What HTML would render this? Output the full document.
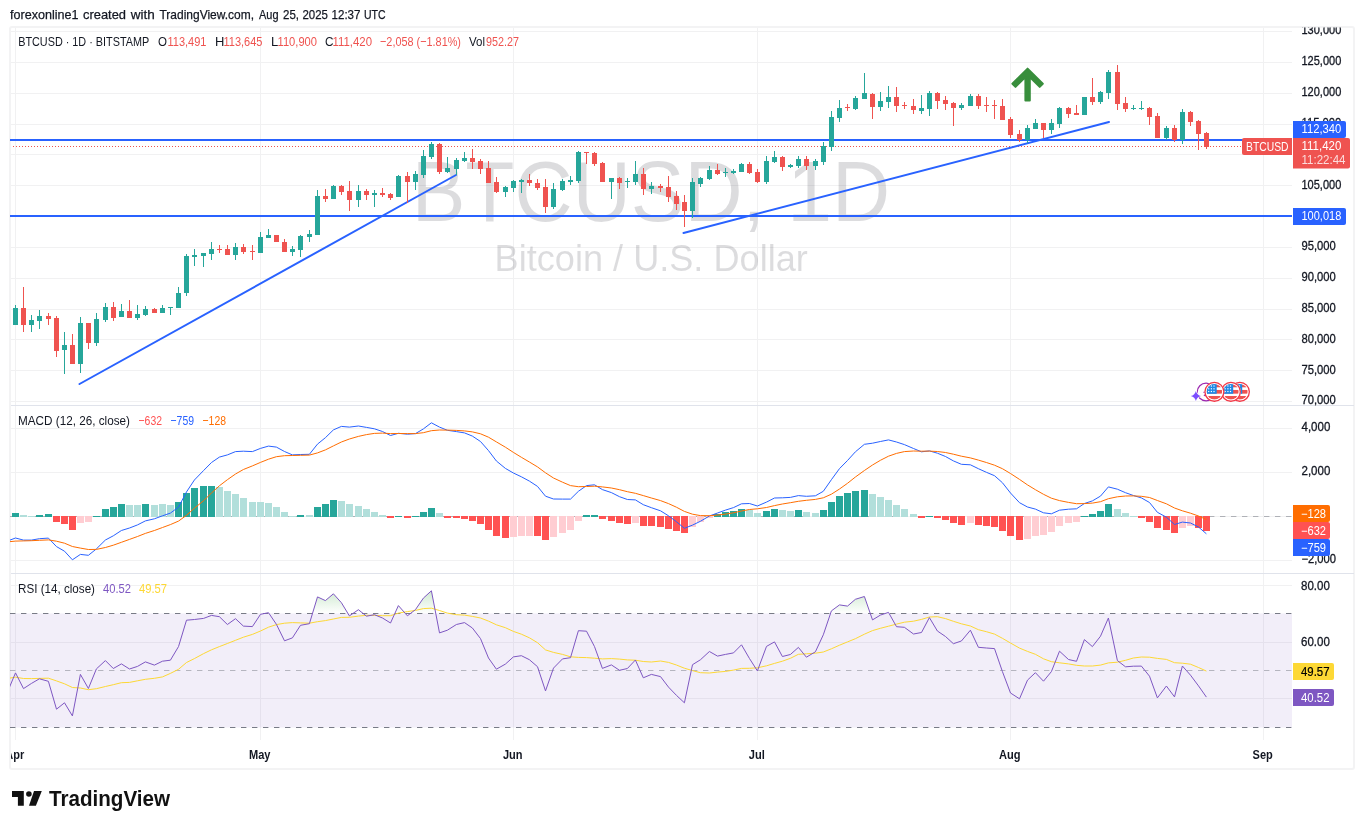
<!DOCTYPE html><html><head><meta charset="utf-8"><title>BTCUSD</title><style>html,body{margin:0;padding:0;background:#fff;overflow:hidden}svg{display:block;will-change:transform}</style></head><body><svg width="1364" height="829" viewBox="0 0 1364 829" font-family="Liberation Sans, sans-serif">
<defs>
<clipPath id="pane"><rect x="10" y="28" width="1282" height="712"/></clipPath>
<clipPath id="fc"><rect x="11" y="28" width="1342" height="740"/></clipPath>
<clipPath id="ob"><rect x="11" y="574" width="1281" height="39.5"/></clipPath>
<linearGradient id="obg" gradientUnits="userSpaceOnUse" x1="0" y1="528.5" x2="0" y2="613.5"><stop offset="0" stop-color="#4caf50" stop-opacity="1"/><stop offset="1" stop-color="#4caf50" stop-opacity="0"/></linearGradient>
<clipPath id="axc"><rect x="1293" y="27.6" width="61" height="378"/></clipPath>
<clipPath id="flagc"><circle cx="0" cy="0" r="7.7"/></clipPath>
</defs>
<text x="10" y="19" font-size="13" fill="#131722" font-weight="normal" text-anchor="start" textLength="68.5" lengthAdjust="spacingAndGlyphs" stroke="#131722" stroke-width="0.25">forexonline1</text>
<text x="83" y="19" font-size="13" fill="#131722" font-weight="normal" text-anchor="start" textLength="43" lengthAdjust="spacingAndGlyphs" stroke="#131722" stroke-width="0.25">created</text>
<text x="130.7" y="19" font-size="13" fill="#131722" font-weight="normal" text-anchor="start" textLength="24" lengthAdjust="spacingAndGlyphs" stroke="#131722" stroke-width="0.25">with</text>
<text x="159.5" y="19" font-size="13" fill="#131722" font-weight="normal" text-anchor="start" textLength="94.5" lengthAdjust="spacingAndGlyphs" stroke="#131722" stroke-width="0.25">TradingView.com,</text>
<text x="259" y="19" font-size="13" fill="#131722" font-weight="normal" text-anchor="start" textLength="19.5" lengthAdjust="spacingAndGlyphs" stroke="#131722" stroke-width="0.25">Aug</text>
<text x="283" y="19" font-size="13" fill="#131722" font-weight="normal" text-anchor="start" textLength="16" lengthAdjust="spacingAndGlyphs" stroke="#131722" stroke-width="0.25">25,</text>
<text x="302.5" y="19" font-size="13" fill="#131722" font-weight="normal" text-anchor="start" textLength="25.5" lengthAdjust="spacingAndGlyphs" stroke="#131722" stroke-width="0.25">2025</text>
<text x="331.5" y="19" font-size="13" fill="#131722" font-weight="normal" text-anchor="start" textLength="29" lengthAdjust="spacingAndGlyphs" stroke="#131722" stroke-width="0.25">12:37</text>
<text x="364" y="19" font-size="13" fill="#131722" font-weight="normal" text-anchor="start" textLength="21.5" lengthAdjust="spacingAndGlyphs" stroke="#131722" stroke-width="0.25">UTC</text>
<rect x="10" y="27" width="1344" height="742" rx="2" ry="2" fill="#fff" stroke="#f3f3f4" stroke-width="2"/>
<g shape-rendering="crispEdges">
<rect x="15" y="28" width="1" height="377" fill="#f1f1f2" />
<rect x="15" y="406" width="1" height="167" fill="#f1f1f2" />
<rect x="15" y="574" width="1" height="166" fill="#f1f1f2" />
<rect x="260" y="28" width="1" height="377" fill="#f1f1f2" />
<rect x="260" y="406" width="1" height="167" fill="#f1f1f2" />
<rect x="260" y="574" width="1" height="166" fill="#f1f1f2" />
<rect x="513" y="28" width="1" height="377" fill="#f1f1f2" />
<rect x="513" y="406" width="1" height="167" fill="#f1f1f2" />
<rect x="513" y="574" width="1" height="166" fill="#f1f1f2" />
<rect x="757" y="28" width="1" height="377" fill="#f1f1f2" />
<rect x="757" y="406" width="1" height="167" fill="#f1f1f2" />
<rect x="757" y="574" width="1" height="166" fill="#f1f1f2" />
<rect x="1010" y="28" width="1" height="377" fill="#f1f1f2" />
<rect x="1010" y="406" width="1" height="167" fill="#f1f1f2" />
<rect x="1010" y="574" width="1" height="166" fill="#f1f1f2" />
<rect x="1263" y="28" width="1" height="377" fill="#f1f1f2" />
<rect x="1263" y="406" width="1" height="167" fill="#f1f1f2" />
<rect x="1263" y="574" width="1" height="166" fill="#f1f1f2" />
<rect x="11" y="31" width="1281" height="1" fill="#f1f1f2" />
<rect x="11" y="62" width="1281" height="1" fill="#f1f1f2" />
<rect x="11" y="93" width="1281" height="1" fill="#f1f1f2" />
<rect x="11" y="124" width="1281" height="1" fill="#f1f1f2" />
<rect x="11" y="154" width="1281" height="1" fill="#f1f1f2" />
<rect x="11" y="185" width="1281" height="1" fill="#f1f1f2" />
<rect x="11" y="216" width="1281" height="1" fill="#f1f1f2" />
<rect x="11" y="247" width="1281" height="1" fill="#f1f1f2" />
<rect x="11" y="278" width="1281" height="1" fill="#f1f1f2" />
<rect x="11" y="309" width="1281" height="1" fill="#f1f1f2" />
<rect x="11" y="339" width="1281" height="1" fill="#f1f1f2" />
<rect x="11" y="370" width="1281" height="1" fill="#f1f1f2" />
<rect x="11" y="401" width="1281" height="1" fill="#f1f1f2" />
<rect x="11" y="428" width="1281" height="1" fill="#f1f1f2" />
<rect x="11" y="472" width="1281" height="1" fill="#f1f1f2" />
<rect x="11" y="516" width="1281" height="1" fill="#f1f1f2" />
<rect x="11" y="560" width="1281" height="1" fill="#f1f1f2" />
<rect x="11" y="585" width="1281" height="1" fill="#f1f1f2" />
<rect x="11" y="642" width="1281" height="1" fill="#f1f1f2" />
<rect x="11" y="698" width="1281" height="1" fill="#f1f1f2" />
<rect x="11" y="405" width="1343" height="1" fill="#e0e3eb" />
<rect x="11" y="573" width="1343" height="1" fill="#e0e3eb" />
</g>
<g fill="#131722" fill-opacity="0.15" text-anchor="middle">
<text transform="translate(650.9,221) scale(1.006,1.06)" font-size="80">BTCUSD, 1D</text>
<text transform="translate(651.2,270.8) scale(1.004,1.045)" font-size="36">Bitcoin / U.S. Dollar</text>
</g>
<g shape-rendering="crispEdges">
<rect x="10" y="139" width="1282" height="2" fill="#2962ff" />
<rect x="10" y="215" width="1282" height="2" fill="#2962ff" />
</g>
<line x1="13" y1="146.5" x2="1292" y2="146.5" stroke="#ef5350" stroke-width="1" stroke-dasharray="1 2" shape-rendering="crispEdges"/>
<g stroke="#2962ff" stroke-width="2" stroke-linecap="round">
<line x1="79.5" y1="384" x2="456" y2="175"/>
<line x1="683.5" y1="233" x2="1109" y2="122"/>
</g>
<g shape-rendering="crispEdges">
<rect x="15" y="305" width="1" height="20" fill="#26a69a" />
<rect x="13" y="308" width="5" height="17" fill="#26a69a" />
<rect x="23" y="287" width="1" height="45" fill="#ef5350" />
<rect x="21" y="308" width="5" height="17" fill="#ef5350" />
<rect x="31" y="315" width="1" height="17" fill="#26a69a" />
<rect x="29" y="320" width="5" height="5" fill="#26a69a" />
<rect x="39" y="310" width="1" height="19" fill="#26a69a" />
<rect x="37" y="316" width="5" height="5" fill="#26a69a" />
<rect x="48" y="313" width="1" height="12" fill="#ef5350" />
<rect x="46" y="316" width="5" height="3" fill="#ef5350" />
<rect x="56" y="316" width="1" height="41" fill="#ef5350" />
<rect x="54" y="318" width="5" height="33" fill="#ef5350" />
<rect x="64" y="332" width="1" height="42" fill="#26a69a" />
<rect x="62" y="345" width="5" height="5" fill="#26a69a" />
<rect x="72" y="334" width="1" height="30" fill="#ef5350" />
<rect x="70" y="345" width="5" height="19" fill="#ef5350" />
<rect x="80" y="317" width="1" height="56" fill="#26a69a" />
<rect x="78" y="323" width="5" height="41" fill="#26a69a" />
<rect x="88" y="323" width="1" height="26" fill="#ef5350" />
<rect x="86" y="323" width="5" height="20" fill="#ef5350" />
<rect x="96" y="313" width="1" height="33" fill="#26a69a" />
<rect x="94" y="319" width="5" height="24" fill="#26a69a" />
<rect x="105" y="303" width="1" height="19" fill="#26a69a" />
<rect x="103" y="307" width="5" height="13" fill="#26a69a" />
<rect x="113" y="302" width="1" height="19" fill="#ef5350" />
<rect x="111" y="307" width="5" height="11" fill="#ef5350" />
<rect x="121" y="304" width="1" height="13" fill="#26a69a" />
<rect x="119" y="311" width="5" height="6" fill="#26a69a" />
<rect x="129" y="300" width="1" height="18" fill="#ef5350" />
<rect x="127" y="311" width="5" height="7" fill="#ef5350" />
<rect x="137" y="305" width="1" height="15" fill="#26a69a" />
<rect x="135" y="314" width="5" height="4" fill="#26a69a" />
<rect x="145" y="306" width="1" height="10" fill="#26a69a" />
<rect x="143" y="309" width="5" height="6" fill="#26a69a" />
<rect x="154" y="308" width="1" height="5" fill="#ef5350" />
<rect x="152" y="309" width="5" height="4" fill="#ef5350" />
<rect x="162" y="305" width="1" height="8" fill="#26a69a" />
<rect x="160" y="308" width="5" height="5" fill="#26a69a" />
<rect x="170" y="307" width="1" height="8" fill="#26a69a" />
<rect x="168" y="307" width="5" height="1" fill="#26a69a" />
<rect x="178" y="287" width="1" height="21" fill="#26a69a" />
<rect x="176" y="293" width="5" height="15" fill="#26a69a" />
<rect x="186" y="254" width="1" height="42" fill="#26a69a" />
<rect x="184" y="256" width="5" height="37" fill="#26a69a" />
<rect x="194" y="249" width="1" height="17" fill="#26a69a" />
<rect x="192" y="255" width="5" height="2" fill="#26a69a" />
<rect x="203" y="253" width="1" height="14" fill="#26a69a" />
<rect x="201" y="253" width="5" height="3" fill="#26a69a" />
<rect x="211" y="242" width="1" height="18" fill="#26a69a" />
<rect x="209" y="249" width="5" height="5" fill="#26a69a" />
<rect x="219" y="245" width="1" height="8" fill="#ef5350" />
<rect x="217" y="249" width="5" height="1" fill="#ef5350" />
<rect x="227" y="245" width="1" height="10" fill="#ef5350" />
<rect x="225" y="249" width="5" height="6" fill="#ef5350" />
<rect x="235" y="243" width="1" height="17" fill="#26a69a" />
<rect x="233" y="247" width="5" height="8" fill="#26a69a" />
<rect x="243" y="244" width="1" height="10" fill="#ef5350" />
<rect x="241" y="247" width="5" height="5" fill="#ef5350" />
<rect x="252" y="245" width="1" height="15" fill="#ef5350" />
<rect x="250" y="251" width="5" height="1" fill="#ef5350" />
<rect x="260" y="232" width="1" height="21" fill="#26a69a" />
<rect x="258" y="237" width="5" height="16" fill="#26a69a" />
<rect x="268" y="229" width="1" height="9" fill="#26a69a" />
<rect x="266" y="235" width="5" height="3" fill="#26a69a" />
<rect x="276" y="235" width="1" height="7" fill="#ef5350" />
<rect x="274" y="235" width="5" height="7" fill="#ef5350" />
<rect x="284" y="239" width="1" height="13" fill="#ef5350" />
<rect x="282" y="242" width="5" height="10" fill="#ef5350" />
<rect x="292" y="246" width="1" height="10" fill="#26a69a" />
<rect x="290" y="249" width="5" height="3" fill="#26a69a" />
<rect x="300" y="235" width="1" height="22" fill="#26a69a" />
<rect x="298" y="236" width="5" height="14" fill="#26a69a" />
<rect x="309" y="230" width="1" height="12" fill="#26a69a" />
<rect x="307" y="234" width="5" height="3" fill="#26a69a" />
<rect x="317" y="190" width="1" height="45" fill="#26a69a" />
<rect x="315" y="196" width="5" height="39" fill="#26a69a" />
<rect x="325" y="189" width="1" height="13" fill="#ef5350" />
<rect x="323" y="196" width="5" height="3" fill="#ef5350" />
<rect x="333" y="185" width="1" height="14" fill="#26a69a" />
<rect x="331" y="186" width="5" height="13" fill="#26a69a" />
<rect x="341" y="185" width="1" height="10" fill="#ef5350" />
<rect x="339" y="186" width="5" height="6" fill="#ef5350" />
<rect x="349" y="181" width="1" height="30" fill="#ef5350" />
<rect x="347" y="191" width="5" height="9" fill="#ef5350" />
<rect x="358" y="185" width="1" height="22" fill="#26a69a" />
<rect x="356" y="191" width="5" height="9" fill="#26a69a" />
<rect x="366" y="189" width="1" height="11" fill="#ef5350" />
<rect x="364" y="191" width="5" height="4" fill="#ef5350" />
<rect x="374" y="190" width="1" height="17" fill="#26a69a" />
<rect x="372" y="193" width="5" height="2" fill="#26a69a" />
<rect x="382" y="188" width="1" height="9" fill="#ef5350" />
<rect x="380" y="193" width="5" height="2" fill="#ef5350" />
<rect x="390" y="193" width="1" height="7" fill="#ef5350" />
<rect x="388" y="194" width="5" height="4" fill="#ef5350" />
<rect x="398" y="175" width="1" height="22" fill="#26a69a" />
<rect x="396" y="176" width="5" height="21" fill="#26a69a" />
<rect x="407" y="172" width="1" height="31" fill="#ef5350" />
<rect x="405" y="176" width="5" height="6" fill="#ef5350" />
<rect x="415" y="171" width="1" height="19" fill="#26a69a" />
<rect x="413" y="174" width="5" height="8" fill="#26a69a" />
<rect x="423" y="150" width="1" height="28" fill="#26a69a" />
<rect x="421" y="156" width="5" height="19" fill="#26a69a" />
<rect x="431" y="142" width="1" height="17" fill="#26a69a" />
<rect x="429" y="144" width="5" height="13" fill="#26a69a" />
<rect x="439" y="143" width="1" height="31" fill="#ef5350" />
<rect x="437" y="144" width="5" height="28" fill="#ef5350" />
<rect x="447" y="157" width="1" height="16" fill="#26a69a" />
<rect x="445" y="168" width="5" height="4" fill="#26a69a" />
<rect x="456" y="158" width="1" height="17" fill="#26a69a" />
<rect x="454" y="160" width="5" height="9" fill="#26a69a" />
<rect x="464" y="152" width="1" height="10" fill="#26a69a" />
<rect x="462" y="158" width="5" height="3" fill="#26a69a" />
<rect x="472" y="149" width="1" height="20" fill="#ef5350" />
<rect x="470" y="158" width="5" height="4" fill="#ef5350" />
<rect x="480" y="159" width="1" height="15" fill="#ef5350" />
<rect x="478" y="161" width="5" height="8" fill="#ef5350" />
<rect x="488" y="161" width="1" height="22" fill="#ef5350" />
<rect x="486" y="168" width="5" height="15" fill="#ef5350" />
<rect x="496" y="177" width="1" height="16" fill="#ef5350" />
<rect x="494" y="182" width="5" height="10" fill="#ef5350" />
<rect x="505" y="186" width="1" height="11" fill="#26a69a" />
<rect x="503" y="187" width="5" height="5" fill="#26a69a" />
<rect x="513" y="180" width="1" height="12" fill="#26a69a" />
<rect x="511" y="181" width="5" height="7" fill="#26a69a" />
<rect x="521" y="179" width="1" height="14" fill="#26a69a" />
<rect x="519" y="180" width="5" height="2" fill="#26a69a" />
<rect x="529" y="174" width="1" height="12" fill="#ef5350" />
<rect x="527" y="180" width="5" height="3" fill="#ef5350" />
<rect x="537" y="179" width="1" height="11" fill="#ef5350" />
<rect x="535" y="183" width="5" height="5" fill="#ef5350" />
<rect x="545" y="179" width="1" height="34" fill="#ef5350" />
<rect x="543" y="187" width="5" height="20" fill="#ef5350" />
<rect x="553" y="183" width="1" height="26" fill="#26a69a" />
<rect x="551" y="189" width="5" height="18" fill="#26a69a" />
<rect x="562" y="179" width="1" height="12" fill="#26a69a" />
<rect x="560" y="181" width="5" height="9" fill="#26a69a" />
<rect x="570" y="176" width="1" height="9" fill="#26a69a" />
<rect x="568" y="180" width="5" height="2" fill="#26a69a" />
<rect x="578" y="151" width="1" height="32" fill="#26a69a" />
<rect x="576" y="152" width="5" height="29" fill="#26a69a" />
<rect x="586" y="152" width="1" height="12" fill="#ef5350" />
<rect x="584" y="152" width="5" height="1" fill="#ef5350" />
<rect x="594" y="152" width="1" height="14" fill="#ef5350" />
<rect x="592" y="153" width="5" height="11" fill="#ef5350" />
<rect x="602" y="162" width="1" height="20" fill="#ef5350" />
<rect x="600" y="163" width="5" height="19" fill="#ef5350" />
<rect x="611" y="178" width="1" height="21" fill="#26a69a" />
<rect x="609" y="178" width="5" height="4" fill="#26a69a" />
<rect x="619" y="177" width="1" height="12" fill="#ef5350" />
<rect x="617" y="178" width="5" height="5" fill="#ef5350" />
<rect x="627" y="178" width="1" height="10" fill="#26a69a" />
<rect x="625" y="181" width="5" height="1" fill="#26a69a" />
<rect x="635" y="161" width="1" height="24" fill="#26a69a" />
<rect x="633" y="174" width="5" height="8" fill="#26a69a" />
<rect x="643" y="168" width="1" height="27" fill="#ef5350" />
<rect x="641" y="174" width="5" height="15" fill="#ef5350" />
<rect x="651" y="182" width="1" height="12" fill="#26a69a" />
<rect x="649" y="186" width="5" height="3" fill="#26a69a" />
<rect x="660" y="184" width="1" height="8" fill="#ef5350" />
<rect x="658" y="186" width="5" height="2" fill="#ef5350" />
<rect x="668" y="176" width="1" height="26" fill="#ef5350" />
<rect x="666" y="187" width="5" height="10" fill="#ef5350" />
<rect x="676" y="191" width="1" height="19" fill="#ef5350" />
<rect x="674" y="196" width="5" height="8" fill="#ef5350" />
<rect x="684" y="195" width="1" height="32" fill="#ef5350" />
<rect x="682" y="202" width="5" height="9" fill="#ef5350" />
<rect x="692" y="178" width="1" height="40" fill="#26a69a" />
<rect x="690" y="182" width="5" height="29" fill="#26a69a" />
<rect x="700" y="177" width="1" height="10" fill="#26a69a" />
<rect x="698" y="178" width="5" height="6" fill="#26a69a" />
<rect x="709" y="166" width="1" height="14" fill="#26a69a" />
<rect x="707" y="170" width="5" height="9" fill="#26a69a" />
<rect x="717" y="164" width="1" height="11" fill="#ef5350" />
<rect x="715" y="170" width="5" height="4" fill="#ef5350" />
<rect x="725" y="168" width="1" height="9" fill="#26a69a" />
<rect x="723" y="172" width="5" height="1" fill="#26a69a" />
<rect x="733" y="169" width="1" height="5" fill="#26a69a" />
<rect x="731" y="171" width="5" height="2" fill="#26a69a" />
<rect x="741" y="163" width="1" height="9" fill="#26a69a" />
<rect x="739" y="164" width="5" height="8" fill="#26a69a" />
<rect x="749" y="162" width="1" height="12" fill="#ef5350" />
<rect x="747" y="164" width="5" height="9" fill="#ef5350" />
<rect x="757" y="169" width="1" height="14" fill="#ef5350" />
<rect x="755" y="172" width="5" height="10" fill="#ef5350" />
<rect x="766" y="156" width="1" height="28" fill="#26a69a" />
<rect x="764" y="161" width="5" height="21" fill="#26a69a" />
<rect x="774" y="151" width="1" height="12" fill="#26a69a" />
<rect x="772" y="157" width="5" height="5" fill="#26a69a" />
<rect x="782" y="156" width="1" height="15" fill="#ef5350" />
<rect x="780" y="157" width="5" height="10" fill="#ef5350" />
<rect x="790" y="164" width="1" height="4" fill="#26a69a" />
<rect x="788" y="165" width="5" height="2" fill="#26a69a" />
<rect x="798" y="156" width="1" height="12" fill="#26a69a" />
<rect x="796" y="159" width="5" height="7" fill="#26a69a" />
<rect x="806" y="156" width="1" height="14" fill="#ef5350" />
<rect x="804" y="159" width="5" height="7" fill="#ef5350" />
<rect x="815" y="159" width="1" height="11" fill="#26a69a" />
<rect x="813" y="161" width="5" height="5" fill="#26a69a" />
<rect x="823" y="142" width="1" height="23" fill="#26a69a" />
<rect x="821" y="146" width="5" height="16" fill="#26a69a" />
<rect x="831" y="111" width="1" height="40" fill="#26a69a" />
<rect x="829" y="117" width="5" height="30" fill="#26a69a" />
<rect x="839" y="100" width="1" height="22" fill="#26a69a" />
<rect x="837" y="108" width="5" height="10" fill="#26a69a" />
<rect x="847" y="104" width="1" height="7" fill="#ef5350" />
<rect x="845" y="107" width="5" height="1" fill="#ef5350" />
<rect x="855" y="96" width="1" height="14" fill="#26a69a" />
<rect x="853" y="98" width="5" height="11" fill="#26a69a" />
<rect x="864" y="73" width="1" height="26" fill="#26a69a" />
<rect x="862" y="93" width="5" height="6" fill="#26a69a" />
<rect x="872" y="93" width="1" height="26" fill="#ef5350" />
<rect x="870" y="94" width="5" height="13" fill="#ef5350" />
<rect x="880" y="92" width="1" height="19" fill="#26a69a" />
<rect x="878" y="101" width="5" height="6" fill="#26a69a" />
<rect x="888" y="86" width="1" height="22" fill="#26a69a" />
<rect x="886" y="97" width="5" height="5" fill="#26a69a" />
<rect x="896" y="87" width="1" height="25" fill="#ef5350" />
<rect x="894" y="97" width="5" height="9" fill="#ef5350" />
<rect x="904" y="102" width="1" height="7" fill="#ef5350" />
<rect x="902" y="105" width="5" height="1" fill="#ef5350" />
<rect x="913" y="99" width="1" height="15" fill="#ef5350" />
<rect x="911" y="106" width="5" height="4" fill="#ef5350" />
<rect x="921" y="95" width="1" height="19" fill="#26a69a" />
<rect x="919" y="108" width="5" height="3" fill="#26a69a" />
<rect x="929" y="91" width="1" height="25" fill="#26a69a" />
<rect x="927" y="93" width="5" height="16" fill="#26a69a" />
<rect x="937" y="92" width="1" height="17" fill="#ef5350" />
<rect x="935" y="93" width="5" height="8" fill="#ef5350" />
<rect x="945" y="96" width="1" height="14" fill="#ef5350" />
<rect x="943" y="100" width="5" height="4" fill="#ef5350" />
<rect x="953" y="102" width="1" height="24" fill="#ef5350" />
<rect x="951" y="103" width="5" height="5" fill="#ef5350" />
<rect x="961" y="103" width="1" height="7" fill="#26a69a" />
<rect x="959" y="105" width="5" height="3" fill="#26a69a" />
<rect x="970" y="94" width="1" height="12" fill="#26a69a" />
<rect x="968" y="96" width="5" height="10" fill="#26a69a" />
<rect x="978" y="94" width="1" height="15" fill="#ef5350" />
<rect x="976" y="96" width="5" height="10" fill="#ef5350" />
<rect x="986" y="97" width="1" height="15" fill="#ef5350" />
<rect x="984" y="105" width="5" height="1" fill="#ef5350" />
<rect x="994" y="100" width="1" height="19" fill="#ef5350" />
<rect x="992" y="105" width="5" height="1" fill="#ef5350" />
<rect x="1002" y="99" width="1" height="21" fill="#ef5350" />
<rect x="1000" y="106" width="5" height="14" fill="#ef5350" />
<rect x="1010" y="117" width="1" height="21" fill="#ef5350" />
<rect x="1008" y="119" width="5" height="16" fill="#ef5350" />
<rect x="1019" y="130" width="1" height="12" fill="#ef5350" />
<rect x="1017" y="134" width="5" height="6" fill="#ef5350" />
<rect x="1027" y="125" width="1" height="18" fill="#26a69a" />
<rect x="1025" y="128" width="5" height="12" fill="#26a69a" />
<rect x="1035" y="119" width="1" height="10" fill="#26a69a" />
<rect x="1033" y="123" width="5" height="6" fill="#26a69a" />
<rect x="1043" y="123" width="1" height="15" fill="#ef5350" />
<rect x="1041" y="123" width="5" height="7" fill="#ef5350" />
<rect x="1051" y="119" width="1" height="15" fill="#26a69a" />
<rect x="1049" y="123" width="5" height="7" fill="#26a69a" />
<rect x="1059" y="107" width="1" height="21" fill="#26a69a" />
<rect x="1057" y="108" width="5" height="16" fill="#26a69a" />
<rect x="1068" y="107" width="1" height="11" fill="#ef5350" />
<rect x="1066" y="108" width="5" height="6" fill="#ef5350" />
<rect x="1076" y="105" width="1" height="10" fill="#ef5350" />
<rect x="1074" y="113" width="5" height="2" fill="#ef5350" />
<rect x="1084" y="97" width="1" height="18" fill="#26a69a" />
<rect x="1082" y="97" width="5" height="18" fill="#26a69a" />
<rect x="1092" y="78" width="1" height="27" fill="#ef5350" />
<rect x="1090" y="97" width="5" height="5" fill="#ef5350" />
<rect x="1100" y="91" width="1" height="13" fill="#26a69a" />
<rect x="1098" y="92" width="5" height="10" fill="#26a69a" />
<rect x="1108" y="70" width="1" height="29" fill="#26a69a" />
<rect x="1106" y="72" width="5" height="21" fill="#26a69a" />
<rect x="1117" y="65" width="1" height="45" fill="#ef5350" />
<rect x="1115" y="72" width="5" height="32" fill="#ef5350" />
<rect x="1125" y="97" width="1" height="15" fill="#ef5350" />
<rect x="1123" y="103" width="5" height="6" fill="#ef5350" />
<rect x="1133" y="105" width="1" height="5" fill="#26a69a" />
<rect x="1131" y="108" width="5" height="1" fill="#26a69a" />
<rect x="1141" y="101" width="1" height="9" fill="#26a69a" />
<rect x="1139" y="108" width="5" height="1" fill="#26a69a" />
<rect x="1149" y="107" width="1" height="18" fill="#ef5350" />
<rect x="1147" y="108" width="5" height="9" fill="#ef5350" />
<rect x="1157" y="113" width="1" height="25" fill="#ef5350" />
<rect x="1155" y="116" width="5" height="22" fill="#ef5350" />
<rect x="1166" y="126" width="1" height="14" fill="#26a69a" />
<rect x="1164" y="128" width="5" height="10" fill="#26a69a" />
<rect x="1174" y="125" width="1" height="17" fill="#ef5350" />
<rect x="1172" y="128" width="5" height="12" fill="#ef5350" />
<rect x="1182" y="109" width="1" height="35" fill="#26a69a" />
<rect x="1180" y="112" width="5" height="28" fill="#26a69a" />
<rect x="1190" y="111" width="1" height="15" fill="#ef5350" />
<rect x="1188" y="112" width="5" height="10" fill="#ef5350" />
<rect x="1198" y="120" width="1" height="30" fill="#ef5350" />
<rect x="1196" y="121" width="5" height="13" fill="#ef5350" />
<rect x="1206" y="132" width="1" height="17" fill="#ef5350" />
<rect x="1204" y="133" width="5" height="14" fill="#ef5350" />
</g>
<path d="M1027.6 68.61L1012.41 83.8L1015.5 86.89L1025.4 76.98V100.4H1029.8V76.98L1039.7 86.89L1042.79 83.8Z" fill="#388e3c" stroke="#388e3c" stroke-width="2" stroke-linejoin="round"/>
<text x="18.2" y="46" font-size="13" fill="#131722" font-weight="normal" text-anchor="start" textLength="131" lengthAdjust="spacingAndGlyphs" >BTCUSD · 1D · BITSTAMP</text>
<text x="158" y="46" font-size="13" fill="#131722" font-weight="normal" text-anchor="start" textLength="9" lengthAdjust="spacingAndGlyphs" >O</text>
<text x="167.5" y="46" font-size="13" fill="#ef5350" font-weight="normal" text-anchor="start" textLength="39" lengthAdjust="spacingAndGlyphs" >113,491</text>
<text x="215" y="46" font-size="13" fill="#131722" font-weight="normal" text-anchor="start" >H</text>
<text x="223.5" y="46" font-size="13" fill="#ef5350" font-weight="normal" text-anchor="start" textLength="39" lengthAdjust="spacingAndGlyphs" >113,645</text>
<text x="271" y="46" font-size="13" fill="#131722" font-weight="normal" text-anchor="start" >L</text>
<text x="277.5" y="46" font-size="13" fill="#ef5350" font-weight="normal" text-anchor="start" textLength="39.5" lengthAdjust="spacingAndGlyphs" >110,900</text>
<text x="325" y="46" font-size="13" fill="#131722" font-weight="normal" text-anchor="start" textLength="8.5" lengthAdjust="spacingAndGlyphs" >C</text>
<text x="332.5" y="46" font-size="13" fill="#ef5350" font-weight="normal" text-anchor="start" textLength="39.5" lengthAdjust="spacingAndGlyphs" >111,420</text>
<text x="380" y="46" font-size="13" fill="#ef5350" font-weight="normal" text-anchor="start" textLength="81" lengthAdjust="spacingAndGlyphs" >−2,058 (−1.81%)</text>
<text x="469" y="46" font-size="13" fill="#131722" font-weight="normal" text-anchor="start" textLength="16" lengthAdjust="spacingAndGlyphs" >Vol</text>
<text x="486" y="46" font-size="13" fill="#ef5350" font-weight="normal" text-anchor="start" textLength="33" lengthAdjust="spacingAndGlyphs" >952.27</text>
<g clip-path="url(#axc)">
<text x="1301.5" y="33.8" font-size="12" fill="#131722" font-weight="normal" text-anchor="start" textLength="39.8" lengthAdjust="spacingAndGlyphs" stroke="#131722" stroke-width="0.3">130,000</text>
<text x="1301.5" y="64.8" font-size="12" fill="#131722" font-weight="normal" text-anchor="start" textLength="39.8" lengthAdjust="spacingAndGlyphs" stroke="#131722" stroke-width="0.3">125,000</text>
<text x="1301.5" y="95.8" font-size="12" fill="#131722" font-weight="normal" text-anchor="start" textLength="39.8" lengthAdjust="spacingAndGlyphs" stroke="#131722" stroke-width="0.3">120,000</text>
<text x="1301.5" y="126.8" font-size="12" fill="#131722" font-weight="normal" text-anchor="start" textLength="39.8" lengthAdjust="spacingAndGlyphs" stroke="#131722" stroke-width="0.3">115,000</text>
<text x="1301.5" y="157.8" font-size="12" fill="#131722" font-weight="normal" text-anchor="start" textLength="39.8" lengthAdjust="spacingAndGlyphs" stroke="#131722" stroke-width="0.3">110,000</text>
<text x="1301.5" y="188.8" font-size="12" fill="#131722" font-weight="normal" text-anchor="start" textLength="39.8" lengthAdjust="spacingAndGlyphs" stroke="#131722" stroke-width="0.3">105,000</text>
<text x="1301.5" y="218.8" font-size="12" fill="#131722" font-weight="normal" text-anchor="start" textLength="39.8" lengthAdjust="spacingAndGlyphs" stroke="#131722" stroke-width="0.3">100,000</text>
<text x="1301.5" y="249.8" font-size="12" fill="#131722" font-weight="normal" text-anchor="start" textLength="34.3" lengthAdjust="spacingAndGlyphs" stroke="#131722" stroke-width="0.3">95,000</text>
<text x="1301.5" y="280.8" font-size="12" fill="#131722" font-weight="normal" text-anchor="start" textLength="34.3" lengthAdjust="spacingAndGlyphs" stroke="#131722" stroke-width="0.3">90,000</text>
<text x="1301.5" y="311.8" font-size="12" fill="#131722" font-weight="normal" text-anchor="start" textLength="34.3" lengthAdjust="spacingAndGlyphs" stroke="#131722" stroke-width="0.3">85,000</text>
<text x="1301.5" y="342.8" font-size="12" fill="#131722" font-weight="normal" text-anchor="start" textLength="34.3" lengthAdjust="spacingAndGlyphs" stroke="#131722" stroke-width="0.3">80,000</text>
<text x="1301.5" y="373.8" font-size="12" fill="#131722" font-weight="normal" text-anchor="start" textLength="34.3" lengthAdjust="spacingAndGlyphs" stroke="#131722" stroke-width="0.3">75,000</text>
<text x="1301.5" y="403.8" font-size="12" fill="#131722" font-weight="normal" text-anchor="start" textLength="34.3" lengthAdjust="spacingAndGlyphs" stroke="#131722" stroke-width="0.3">70,000</text>
</g>
<circle cx="1206.1" cy="392" r="8.9" fill="none" stroke="#9c27b0" stroke-width="1.2"/>
<path d="M1203.5 392.3h3M1204 396l2-2.5" stroke="#9c27b0" stroke-width="1.2" fill="none"/>
<path d="M1195.9 390.9 Q1196.9 395 1201 396 Q1196.9 397 1195.9 401.1 Q1194.9 397 1190.8 396 Q1194.9 395 1195.9 390.9Z" fill="#7c4dff" stroke="#fff" stroke-width="1.6" paint-order="stroke"/>
<g transform="translate(1239.9,391.8)">
<circle r="10" fill="#fff"/><circle r="9.45" fill="none" stroke="#f23645" stroke-width="1.3"/>
<g clip-path="url(#flagc)"><rect x="-8" y="-8" width="16" height="16" fill="#fff"/>
<rect x="-8" y="-7.2" width="16" height="2.7" fill="#ef5350"/>
<rect x="-8" y="-1.85" width="16" height="3.7" fill="#ef5350"/>
<rect x="-8" y="4.2" width="16" height="3.8" fill="#ef5350"/>
<rect x="-8" y="-8" width="10.3" height="10" fill="#1e88e5"/>
<rect x="-6.3" y="-6.3999999999999995" width="1.2" height="1.2" fill="#fff"/>
<rect x="-6.3" y="-3.6" width="1.2" height="1.2" fill="#fff"/>
<rect x="-6.3" y="-0.8999999999999999" width="1.2" height="1.2" fill="#fff"/>
<rect x="-3.6" y="-6.3999999999999995" width="1.2" height="1.2" fill="#fff"/>
<rect x="-3.6" y="-3.6" width="1.2" height="1.2" fill="#fff"/>
<rect x="-3.6" y="-0.8999999999999999" width="1.2" height="1.2" fill="#fff"/>
<rect x="-1.0" y="-6.3999999999999995" width="1.2" height="1.2" fill="#fff"/>
<rect x="-1.0" y="-3.6" width="1.2" height="1.2" fill="#fff"/>
<rect x="-1.0" y="-0.8999999999999999" width="1.2" height="1.2" fill="#fff"/>
</g></g>
<g transform="translate(1230.9,391.8)">
<circle r="10" fill="#fff"/><circle r="9.45" fill="none" stroke="#f23645" stroke-width="1.3"/>
<g clip-path="url(#flagc)"><rect x="-8" y="-8" width="16" height="16" fill="#fff"/>
<rect x="-8" y="-7.2" width="16" height="2.7" fill="#ef5350"/>
<rect x="-8" y="-1.85" width="16" height="3.7" fill="#ef5350"/>
<rect x="-8" y="4.2" width="16" height="3.8" fill="#ef5350"/>
<rect x="-8" y="-8" width="10.3" height="10" fill="#1e88e5"/>
<rect x="-6.3" y="-6.3999999999999995" width="1.2" height="1.2" fill="#fff"/>
<rect x="-6.3" y="-3.6" width="1.2" height="1.2" fill="#fff"/>
<rect x="-6.3" y="-0.8999999999999999" width="1.2" height="1.2" fill="#fff"/>
<rect x="-3.6" y="-6.3999999999999995" width="1.2" height="1.2" fill="#fff"/>
<rect x="-3.6" y="-3.6" width="1.2" height="1.2" fill="#fff"/>
<rect x="-3.6" y="-0.8999999999999999" width="1.2" height="1.2" fill="#fff"/>
<rect x="-1.0" y="-6.3999999999999995" width="1.2" height="1.2" fill="#fff"/>
<rect x="-1.0" y="-3.6" width="1.2" height="1.2" fill="#fff"/>
<rect x="-1.0" y="-0.8999999999999999" width="1.2" height="1.2" fill="#fff"/>
</g></g>
<g transform="translate(1214.4,391.8)">
<circle r="10" fill="#fff"/><circle r="9.45" fill="none" stroke="#f23645" stroke-width="1.3"/>
<g clip-path="url(#flagc)"><rect x="-8" y="-8" width="16" height="16" fill="#fff"/>
<rect x="-8" y="-7.2" width="16" height="2.7" fill="#ef5350"/>
<rect x="-8" y="-1.85" width="16" height="3.7" fill="#ef5350"/>
<rect x="-8" y="4.2" width="16" height="3.8" fill="#ef5350"/>
<rect x="-8" y="-8" width="10.3" height="10" fill="#1e88e5"/>
<rect x="-6.3" y="-6.3999999999999995" width="1.2" height="1.2" fill="#fff"/>
<rect x="-6.3" y="-3.6" width="1.2" height="1.2" fill="#fff"/>
<rect x="-6.3" y="-0.8999999999999999" width="1.2" height="1.2" fill="#fff"/>
<rect x="-3.6" y="-6.3999999999999995" width="1.2" height="1.2" fill="#fff"/>
<rect x="-3.6" y="-3.6" width="1.2" height="1.2" fill="#fff"/>
<rect x="-3.6" y="-0.8999999999999999" width="1.2" height="1.2" fill="#fff"/>
<rect x="-1.0" y="-6.3999999999999995" width="1.2" height="1.2" fill="#fff"/>
<rect x="-1.0" y="-3.6" width="1.2" height="1.2" fill="#fff"/>
<rect x="-1.0" y="-0.8999999999999999" width="1.2" height="1.2" fill="#fff"/>
</g></g>
<path d="M1293 121H1344Q1346 121 1346 123V136Q1346 138 1344 138H1293Z" fill="#2962ff"/>
<text x="1301.5" y="132.8" font-size="12" fill="#fff" font-weight="normal" text-anchor="start" textLength="39.8" lengthAdjust="spacingAndGlyphs" >112,340</text>
<path d="M1293 138H1348Q1350 138 1350 140V166.6Q1350 168.6 1348 168.6H1293Z" fill="#ef5350"/>
<text x="1301.5" y="150" font-size="12" fill="#fff" font-weight="normal" text-anchor="start" textLength="39.8" lengthAdjust="spacingAndGlyphs" >111,420</text>
<text x="1301.5" y="164" font-size="12" fill="#fff" font-weight="normal" text-anchor="start" textLength="44" lengthAdjust="spacingAndGlyphs" fill-opacity="0.8">11:22:44</text>
<path d="M1292 138H1244Q1242 138 1242 140V153Q1242 155 1244 155H1292Z" fill="#ef5350"/>
<text x="1246" y="151" font-size="12" fill="#fff" font-weight="normal" text-anchor="start" textLength="42.5" lengthAdjust="spacingAndGlyphs" >BTCUSD</text>
<path d="M1293 208H1344Q1346 208 1346 210V223Q1346 225 1344 225H1293Z" fill="#2962ff"/>
<text x="1301.5" y="219.8" font-size="12" fill="#fff" font-weight="normal" text-anchor="start" textLength="39.8" lengthAdjust="spacingAndGlyphs" >100,018</text>
<line x1="10" y1="516.5" x2="1292" y2="516.5" stroke="#787b86" stroke-opacity="0.55" stroke-width="1" stroke-dasharray="5.4 5.6" clip-path="url(#pane)"/>
<g shape-rendering="crispEdges">
<rect x="12" y="513" width="7" height="4" fill="#26a69a" />
<rect x="20" y="515" width="7" height="2" fill="#b2dfdb" />
<rect x="28" y="516" width="7" height="1" fill="#b2dfdb" />
<rect x="36" y="515" width="7" height="2" fill="#26a69a" />
<rect x="45" y="514" width="7" height="3" fill="#26a69a" />
<rect x="53" y="516" width="7" height="6" fill="#ff5252" />
<rect x="61" y="516" width="7" height="8" fill="#ff5252" />
<rect x="69" y="516" width="7" height="14" fill="#ff5252" />
<rect x="77" y="516" width="7" height="7" fill="#ffcdd2" />
<rect x="85" y="516" width="7" height="6" fill="#ffcdd2" />
<rect x="93" y="516" width="7" height="1" fill="#26a69a" />
<rect x="102" y="509" width="7" height="8" fill="#26a69a" />
<rect x="110" y="507" width="7" height="10" fill="#26a69a" />
<rect x="118" y="504" width="7" height="13" fill="#26a69a" />
<rect x="126" y="505" width="7" height="12" fill="#b2dfdb" />
<rect x="134" y="505" width="7" height="12" fill="#b2dfdb" />
<rect x="142" y="504" width="7" height="13" fill="#26a69a" />
<rect x="151" y="505" width="7" height="12" fill="#b2dfdb" />
<rect x="159" y="504" width="7" height="13" fill="#b2dfdb" />
<rect x="167" y="505" width="7" height="12" fill="#b2dfdb" />
<rect x="175" y="502" width="7" height="15" fill="#26a69a" />
<rect x="183" y="493" width="7" height="24" fill="#26a69a" />
<rect x="191" y="488" width="7" height="29" fill="#26a69a" />
<rect x="200" y="486" width="7" height="31" fill="#26a69a" />
<rect x="208" y="486" width="7" height="31" fill="#26a69a" />
<rect x="216" y="487" width="7" height="30" fill="#b2dfdb" />
<rect x="224" y="491" width="7" height="26" fill="#b2dfdb" />
<rect x="232" y="494" width="7" height="23" fill="#b2dfdb" />
<rect x="240" y="498" width="7" height="19" fill="#b2dfdb" />
<rect x="249" y="502" width="7" height="15" fill="#b2dfdb" />
<rect x="257" y="502" width="7" height="15" fill="#b2dfdb" />
<rect x="265" y="503" width="7" height="14" fill="#b2dfdb" />
<rect x="273" y="507" width="7" height="10" fill="#b2dfdb" />
<rect x="281" y="512" width="7" height="5" fill="#b2dfdb" />
<rect x="289" y="516" width="7" height="1" fill="#b2dfdb" />
<rect x="297" y="515" width="7" height="2" fill="#26a69a" />
<rect x="306" y="515" width="7" height="2" fill="#b2dfdb" />
<rect x="314" y="507" width="7" height="10" fill="#26a69a" />
<rect x="322" y="504" width="7" height="13" fill="#26a69a" />
<rect x="330" y="500" width="7" height="17" fill="#26a69a" />
<rect x="338" y="501" width="7" height="16" fill="#b2dfdb" />
<rect x="346" y="504" width="7" height="13" fill="#b2dfdb" />
<rect x="355" y="506" width="7" height="11" fill="#b2dfdb" />
<rect x="363" y="509" width="7" height="8" fill="#b2dfdb" />
<rect x="371" y="512" width="7" height="5" fill="#b2dfdb" />
<rect x="379" y="515" width="7" height="2" fill="#b2dfdb" />
<rect x="387" y="516" width="7" height="2" fill="#ff5252" />
<rect x="395" y="516" width="7" height="1" fill="#26a69a" />
<rect x="404" y="516" width="7" height="2" fill="#ff5252" />
<rect x="412" y="516" width="7" height="1" fill="#26a69a" />
<rect x="420" y="512" width="7" height="5" fill="#26a69a" />
<rect x="428" y="508" width="7" height="9" fill="#26a69a" />
<rect x="436" y="513" width="7" height="4" fill="#b2dfdb" />
<rect x="444" y="516" width="7" height="2" fill="#ff5252" />
<rect x="453" y="516" width="7" height="2" fill="#ff5252" />
<rect x="461" y="516" width="7" height="3" fill="#ff5252" />
<rect x="469" y="516" width="7" height="5" fill="#ff5252" />
<rect x="477" y="516" width="7" height="8" fill="#ff5252" />
<rect x="485" y="516" width="7" height="14" fill="#ff5252" />
<rect x="493" y="516" width="7" height="20" fill="#ff5252" />
<rect x="502" y="516" width="7" height="22" fill="#ff5252" />
<rect x="510" y="516" width="7" height="21" fill="#ffcdd2" />
<rect x="518" y="516" width="7" height="20" fill="#ffcdd2" />
<rect x="526" y="516" width="7" height="20" fill="#ffcdd2" />
<rect x="534" y="516" width="7" height="20" fill="#ff5252" />
<rect x="542" y="516" width="7" height="24" fill="#ff5252" />
<rect x="550" y="516" width="7" height="21" fill="#ffcdd2" />
<rect x="559" y="516" width="7" height="17" fill="#ffcdd2" />
<rect x="567" y="516" width="7" height="14" fill="#ffcdd2" />
<rect x="575" y="516" width="7" height="5" fill="#ffcdd2" />
<rect x="583" y="515" width="7" height="2" fill="#26a69a" />
<rect x="591" y="515" width="7" height="2" fill="#26a69a" />
<rect x="599" y="516" width="7" height="3" fill="#ff5252" />
<rect x="608" y="516" width="7" height="5" fill="#ff5252" />
<rect x="616" y="516" width="7" height="7" fill="#ff5252" />
<rect x="624" y="516" width="7" height="8" fill="#ff5252" />
<rect x="632" y="516" width="7" height="7" fill="#ffcdd2" />
<rect x="640" y="516" width="7" height="10" fill="#ff5252" />
<rect x="648" y="516" width="7" height="10" fill="#ff5252" />
<rect x="657" y="516" width="7" height="11" fill="#ff5252" />
<rect x="665" y="516" width="7" height="13" fill="#ff5252" />
<rect x="673" y="516" width="7" height="15" fill="#ff5252" />
<rect x="681" y="516" width="7" height="17" fill="#ff5252" />
<rect x="689" y="516" width="7" height="11" fill="#ffcdd2" />
<rect x="697" y="516" width="7" height="6" fill="#ffcdd2" />
<rect x="706" y="516" width="7" height="2" fill="#ffcdd2" />
<rect x="714" y="514" width="7" height="3" fill="#26a69a" />
<rect x="722" y="512" width="7" height="5" fill="#26a69a" />
<rect x="730" y="511" width="7" height="6" fill="#26a69a" />
<rect x="738" y="509" width="7" height="8" fill="#26a69a" />
<rect x="746" y="510" width="7" height="7" fill="#b2dfdb" />
<rect x="754" y="513" width="7" height="4" fill="#b2dfdb" />
<rect x="763" y="511" width="7" height="6" fill="#26a69a" />
<rect x="771" y="509" width="7" height="8" fill="#26a69a" />
<rect x="779" y="510" width="7" height="7" fill="#b2dfdb" />
<rect x="787" y="511" width="7" height="6" fill="#b2dfdb" />
<rect x="795" y="510" width="7" height="7" fill="#26a69a" />
<rect x="803" y="512" width="7" height="5" fill="#b2dfdb" />
<rect x="812" y="513" width="7" height="4" fill="#b2dfdb" />
<rect x="820" y="510" width="7" height="7" fill="#26a69a" />
<rect x="828" y="502" width="7" height="15" fill="#26a69a" />
<rect x="836" y="496" width="7" height="21" fill="#26a69a" />
<rect x="844" y="493" width="7" height="24" fill="#26a69a" />
<rect x="852" y="491" width="7" height="26" fill="#26a69a" />
<rect x="861" y="490" width="7" height="27" fill="#26a69a" />
<rect x="869" y="494" width="7" height="23" fill="#b2dfdb" />
<rect x="877" y="497" width="7" height="20" fill="#b2dfdb" />
<rect x="885" y="500" width="7" height="17" fill="#b2dfdb" />
<rect x="893" y="505" width="7" height="12" fill="#b2dfdb" />
<rect x="901" y="509" width="7" height="8" fill="#b2dfdb" />
<rect x="910" y="514" width="7" height="3" fill="#b2dfdb" />
<rect x="918" y="516" width="7" height="2" fill="#ff5252" />
<rect x="926" y="516" width="7" height="1" fill="#26a69a" />
<rect x="934" y="516" width="7" height="2" fill="#ff5252" />
<rect x="942" y="516" width="7" height="4" fill="#ff5252" />
<rect x="950" y="516" width="7" height="7" fill="#ff5252" />
<rect x="958" y="516" width="7" height="9" fill="#ff5252" />
<rect x="967" y="516" width="7" height="7" fill="#ffcdd2" />
<rect x="975" y="516" width="7" height="9" fill="#ff5252" />
<rect x="983" y="516" width="7" height="10" fill="#ff5252" />
<rect x="991" y="516" width="7" height="11" fill="#ff5252" />
<rect x="999" y="516" width="7" height="15" fill="#ff5252" />
<rect x="1007" y="516" width="7" height="20" fill="#ff5252" />
<rect x="1016" y="516" width="7" height="24" fill="#ff5252" />
<rect x="1024" y="516" width="7" height="23" fill="#ffcdd2" />
<rect x="1032" y="516" width="7" height="20" fill="#ffcdd2" />
<rect x="1040" y="516" width="7" height="19" fill="#ffcdd2" />
<rect x="1048" y="516" width="7" height="16" fill="#ffcdd2" />
<rect x="1056" y="516" width="7" height="10" fill="#ffcdd2" />
<rect x="1065" y="516" width="7" height="7" fill="#ffcdd2" />
<rect x="1073" y="516" width="7" height="6" fill="#ffcdd2" />
<rect x="1081" y="516" width="7" height="1" fill="#26a69a" />
<rect x="1089" y="514" width="7" height="3" fill="#26a69a" />
<rect x="1097" y="511" width="7" height="6" fill="#26a69a" />
<rect x="1105" y="504" width="7" height="13" fill="#26a69a" />
<rect x="1114" y="509" width="7" height="8" fill="#b2dfdb" />
<rect x="1122" y="513" width="7" height="4" fill="#b2dfdb" />
<rect x="1130" y="516" width="7" height="1" fill="#b2dfdb" />
<rect x="1138" y="516" width="7" height="2" fill="#ff5252" />
<rect x="1146" y="516" width="7" height="6" fill="#ff5252" />
<rect x="1154" y="516" width="7" height="12" fill="#ff5252" />
<rect x="1163" y="516" width="7" height="14" fill="#ff5252" />
<rect x="1171" y="516" width="7" height="17" fill="#ff5252" />
<rect x="1179" y="516" width="7" height="12" fill="#ffcdd2" />
<rect x="1187" y="516" width="7" height="10" fill="#ffcdd2" />
<rect x="1195" y="516" width="7" height="12" fill="#ff5252" />
<rect x="1203" y="516" width="7" height="15" fill="#ff5252" />
</g>
<polyline points="7.3,541.1 15.5,538.0 23.5,540.1 31.5,540.1 39.4,538.7 48.4,538.1 56.5,546.6 64.5,551.2 72.4,559.8 80.4,554.4 88.4,555.3 96.4,548.9 105.4,540.0 113.3,535.8 121.4,530.5 129.5,528.0 137.5,524.9 145.4,520.9 154.4,518.8 162.5,515.8 170.4,513.1 178.5,507.1 186.5,491.9 194.4,480.0 203.6,470.5 211.5,462.5 219.4,457.1 227.4,454.9 235.5,451.6 243.4,451.2 252.4,451.6 260.5,448.4 268.5,446.1 276.4,447.1 284.5,451.5 292.4,454.9 300.5,454.5 309.4,454.3 317.5,444.1 325.4,437.7 333.4,429.9 341.4,426.4 349.4,427.1 358.4,426.0 366.5,427.4 374.4,428.8 382.5,431.5 390.5,435.5 398.4,433.3 407.4,434.2 415.5,433.6 423.4,428.9 431.4,422.8 439.5,427.1 447.4,430.3 456.4,431.6 464.5,432.9 472.4,436.1 480.5,441.5 488.5,450.6 496.4,461.0 505.4,468.4 513.4,473.0 521.4,476.8 529.4,481.1 537.5,486.4 545.5,496.2 553.5,499.0 562.5,499.1 570.5,499.1 578.4,491.3 586.5,485.6 594.5,484.8 602.4,489.6 611.4,492.6 619.5,496.7 627.4,499.5 635.4,499.9 643.3,504.7 651.4,507.7 660.5,510.8 668.5,515.8 676.4,521.7 684.4,528.3 692.5,525.1 700.4,521.3 709.4,516.0 717.5,513.0 725.5,510.1 733.5,507.6 741.5,503.8 749.4,503.5 757.4,506.0 766.5,502.1 774.5,498.0 782.4,497.8 790.4,497.4 798.4,495.6 806.4,496.3 815.4,495.8 823.3,491.3 831.4,479.7 839.5,468.6 847.5,460.5 855.4,451.8 864.4,444.3 872.5,443.2 880.4,441.5 888.5,439.9 896.5,442.0 904.4,444.6 913.5,448.5 921.5,451.8 929.4,450.9 937.4,453.2 945.5,456.5 953.4,460.9 961.4,464.3 970.4,464.8 978.4,468.7 986.4,472.3 994.5,475.7 1002.4,482.7 1010.5,493.0 1019.5,502.7 1027.5,507.0 1035.4,509.1 1043.5,512.8 1051.4,513.8 1059.5,510.2 1068.5,509.2 1076.5,508.8 1084.4,503.5 1092.4,500.9 1100.5,496.1 1108.4,486.9 1117.4,489.2 1125.5,492.7 1133.4,495.5 1141.4,497.9 1149.5,502.5 1157.4,512.3 1166.4,517.2 1174.5,524.5 1182.4,522.1 1190.5,523.0 1198.5,527.0 1206.4,533.8" fill="none" stroke="#2962ff" stroke-width="1" stroke-linejoin="round" clip-path="url(#pane)" />
<polyline points="7.3,541.9 15.5,541.1 23.5,540.9 31.5,540.7 39.4,540.3 48.4,539.9 56.5,541.2 64.5,543.2 72.4,546.5 80.4,548.1 88.4,549.5 96.4,549.4 105.4,547.5 113.3,545.2 121.4,542.3 129.5,539.4 137.5,536.5 145.4,533.4 154.4,530.5 162.5,527.5 170.4,524.6 178.5,521.1 186.5,515.3 194.4,508.2 203.6,500.7 211.5,493.0 219.4,485.8 227.4,479.7 235.5,474.0 243.4,469.5 252.4,465.9 260.5,462.4 268.5,459.2 276.4,456.7 284.5,455.7 292.4,455.5 300.5,455.3 309.4,455.1 317.5,452.9 325.4,449.9 333.4,445.9 341.4,442.0 349.4,439.0 358.4,436.4 366.5,434.6 374.4,433.4 382.5,433.1 390.5,433.6 398.4,433.5 407.4,433.6 415.5,433.6 423.4,432.7 431.4,430.7 439.5,430.0 447.4,430.1 456.4,430.4 464.5,430.9 472.4,431.9 480.5,433.8 488.5,437.2 496.4,441.9 505.4,447.2 513.4,452.4 521.4,457.3 529.4,462.0 537.5,466.9 545.5,472.8 553.5,478.0 562.5,482.2 570.5,485.6 578.4,486.7 586.5,486.5 594.5,486.2 602.4,486.9 611.4,488.0 619.5,489.7 627.4,491.7 635.4,493.3 643.3,495.6 651.4,498.0 660.5,500.6 668.5,503.6 676.4,507.2 684.4,511.4 692.5,514.2 700.4,515.6 709.4,515.7 717.5,515.1 725.5,514.1 733.5,512.8 741.5,511.0 749.4,509.5 757.4,508.8 766.5,507.5 774.5,505.6 782.4,504.0 790.4,502.7 798.4,501.3 806.4,500.3 815.4,499.4 823.3,497.8 831.4,494.2 839.5,489.0 847.5,483.3 855.4,477.0 864.4,470.5 872.5,465.0 880.4,460.3 888.5,456.2 896.5,453.4 904.4,451.6 913.5,451.0 921.5,451.2 929.4,451.1 937.4,451.5 945.5,452.5 953.4,454.2 961.4,456.2 970.4,457.9 978.4,460.1 986.4,462.5 994.5,465.2 1002.4,468.7 1010.5,473.5 1019.5,479.4 1027.5,484.9 1035.4,489.7 1043.5,494.3 1051.4,498.2 1059.5,500.6 1068.5,502.4 1076.5,503.7 1084.4,503.6 1092.4,503.1 1100.5,501.7 1108.4,498.7 1117.4,496.8 1125.5,496.0 1133.4,495.9 1141.4,496.3 1149.5,497.5 1157.4,500.5 1166.4,503.8 1174.5,508.0 1182.4,510.8 1190.5,513.2 1198.5,516.0 1206.4,519.5" fill="none" stroke="#ff6d00" stroke-width="1" stroke-linejoin="round" clip-path="url(#pane)" />
<text x="18" y="425" font-size="13" fill="#131722" font-weight="normal" text-anchor="start" textLength="112" lengthAdjust="spacingAndGlyphs" >MACD (12, 26, close)</text>
<text x="138.5" y="425" font-size="13" fill="#ff5252" font-weight="normal" text-anchor="start" textLength="23.5" lengthAdjust="spacingAndGlyphs" >−632</text>
<text x="170.5" y="425" font-size="13" fill="#2962ff" font-weight="normal" text-anchor="start" textLength="23.5" lengthAdjust="spacingAndGlyphs" >−759</text>
<text x="202.5" y="425" font-size="13" fill="#ff6d00" font-weight="normal" text-anchor="start" textLength="23.5" lengthAdjust="spacingAndGlyphs" >−128</text>
<text x="1301.5" y="430.8" font-size="12" fill="#131722" font-weight="normal" text-anchor="start" textLength="28.8" lengthAdjust="spacingAndGlyphs" stroke="#131722" stroke-width="0.3">4,000</text>
<text x="1301.5" y="474.8" font-size="12" fill="#131722" font-weight="normal" text-anchor="start" textLength="28.8" lengthAdjust="spacingAndGlyphs" stroke="#131722" stroke-width="0.3">2,000</text>
<text x="1301.5" y="562.8" font-size="12" fill="#131722" font-weight="normal" text-anchor="start" textLength="34.5" lengthAdjust="spacingAndGlyphs" stroke="#131722" stroke-width="0.3">−2,000</text>
<path d="M1293 505H1328Q1330 505 1330 507V520Q1330 522 1328 522H1293Z" fill="#ff6d00"/>
<text x="1301" y="517.8" font-size="12" fill="#fff" font-weight="normal" text-anchor="start" textLength="25" lengthAdjust="spacingAndGlyphs" >−128</text>
<path d="M1293 522H1328Q1330 522 1330 524V537Q1330 539 1328 539H1293Z" fill="#ff5252"/>
<text x="1301" y="534.8" font-size="12" fill="#fff" font-weight="normal" text-anchor="start" textLength="25" lengthAdjust="spacingAndGlyphs" >−632</text>
<path d="M1293 539H1328Q1330 539 1330 541V554Q1330 556 1328 556H1293Z" fill="#2962ff"/>
<text x="1301" y="551.8" font-size="12" fill="#fff" font-weight="normal" text-anchor="start" textLength="25" lengthAdjust="spacingAndGlyphs" >−759</text>
<rect x="10" y="613.5" width="1282" height="114.0" fill="#7e57c2" fill-opacity="0.1"/>
<polygon points="7.3,613.5 7.3,692.4 15.5,672.9 23.5,688.6 31.5,683.4 39.4,678.8 48.4,681.3 56.5,709.2 64.5,702.8 72.4,715.9 80.4,674.4 88.4,688.5 96.4,668.9 105.4,660.6 113.3,668.5 121.4,663.9 129.5,669.0 137.5,666.4 145.4,661.9 154.4,665.1 162.5,661.2 170.4,660.2 178.5,646.6 186.5,620.2 194.4,619.5 203.6,618.4 211.5,615.4 219.4,616.7 227.4,624.5 235.5,618.7 243.4,626.1 252.4,626.6 260.5,614.3 268.5,612.7 276.4,624.3 284.5,640.8 292.4,637.9 300.5,625.3 309.4,623.7 317.5,596.9 325.4,600.6 333.4,593.8 341.4,602.7 349.4,615.9 358.4,609.7 366.5,616.2 374.4,614.7 382.5,618.0 390.5,623.0 398.4,605.6 407.4,615.8 415.5,609.6 423.4,598.1 431.4,590.8 439.5,632.9 447.4,630.2 456.4,624.5 464.5,622.6 472.4,628.0 480.5,638.6 488.5,658.0 496.4,669.2 505.4,664.1 513.4,656.9 521.4,655.7 529.4,659.7 537.5,666.7 545.5,690.9 553.5,668.1 562.5,658.9 570.5,657.7 578.4,630.7 586.5,631.2 594.5,646.6 602.4,668.4 611.4,664.9 619.5,670.3 627.4,668.5 635.4,660.0 643.3,677.8 651.4,674.4 660.5,676.6 668.5,687.1 676.4,695.3 684.4,702.8 692.5,664.7 700.4,659.8 709.4,651.5 717.5,656.1 725.5,654.4 733.5,652.9 741.5,644.8 749.4,658.4 757.4,670.9 766.5,646.4 774.5,641.9 782.4,656.5 790.4,654.5 798.4,647.4 806.4,657.2 815.4,651.8 823.3,634.8 831.4,610.9 839.5,604.9 847.5,606.1 855.4,599.3 864.4,596.5 872.5,619.9 880.4,615.1 888.5,612.4 896.5,626.7 904.4,627.3 913.5,634.0 921.5,632.5 929.4,617.6 937.4,631.0 945.5,636.5 953.4,643.7 961.4,641.0 970.4,630.2 978.4,647.3 986.4,648.0 994.5,648.6 1002.4,671.5 1010.5,693.0 1019.5,698.8 1027.5,680.1 1035.4,672.7 1043.5,681.2 1051.4,671.6 1059.5,651.2 1068.5,659.5 1076.5,661.3 1084.4,639.6 1092.4,646.6 1100.5,636.2 1108.4,618.0 1117.4,660.6 1125.5,666.8 1133.4,666.2 1141.4,666.1 1149.5,676.2 1157.4,697.9 1166.4,686.0 1174.5,696.9 1182.4,666.0 1190.5,675.2 1198.5,685.9 1206.4,697.1 1206.4,613.5" fill="url(#obg)" clip-path="url(#ob)"/>
<line x1="10" y1="613.5" x2="1292" y2="613.5" stroke="#787b86" stroke-opacity="1" stroke-width="1" stroke-dasharray="5.4 5.6" clip-path="url(#pane)"/>
<line x1="10" y1="670.5" x2="1292" y2="670.5" stroke="#787b86" stroke-opacity="0.5" stroke-width="1" stroke-dasharray="5.4 5.6" clip-path="url(#pane)"/>
<line x1="10" y1="727.5" x2="1292" y2="727.5" stroke="#787b86" stroke-opacity="1" stroke-width="1" stroke-dasharray="5.4 5.6" clip-path="url(#pane)"/>
<polyline points="7.3,678.5 15.5,677.2 23.5,678.5 31.5,678.6 39.4,678.4 48.4,678.2 56.5,680.9 64.5,683.8 72.4,687.5 80.4,688.0 88.4,689.7 96.4,688.7 105.4,686.5 113.3,684.7 121.4,682.7 129.5,682.4 137.5,680.8 145.4,679.3 154.4,678.3 162.5,676.9 170.4,673.4 178.5,669.3 186.5,662.5 194.4,658.6 203.6,653.6 211.5,649.8 219.4,646.6 227.4,643.5 235.5,640.3 243.4,637.2 252.4,634.4 260.5,631.0 268.5,627.2 276.4,624.6 284.5,623.2 292.4,622.6 300.5,622.9 309.4,623.2 317.5,621.7 325.4,620.6 333.4,619.0 341.4,617.4 349.4,617.3 358.4,616.1 366.5,615.3 374.4,615.4 382.5,615.7 390.5,615.7 398.4,613.1 407.4,611.6 415.5,610.4 423.4,608.6 431.4,608.2 439.5,610.5 447.4,613.1 456.4,614.7 464.5,615.1 472.4,616.4 480.5,618.0 488.5,621.1 496.4,624.8 505.4,627.7 513.4,631.4 521.4,634.2 529.4,637.8 537.5,642.7 545.5,649.9 553.5,652.4 562.5,654.4 570.5,656.8 578.4,657.4 586.5,657.6 594.5,658.2 602.4,658.9 611.4,658.6 619.5,659.1 627.4,659.9 635.4,660.2 643.3,661.5 651.4,662.0 660.5,661.0 668.5,662.4 676.4,665.0 684.4,668.2 692.5,670.6 700.4,672.7 709.4,673.0 717.5,672.1 725.5,671.4 733.5,670.1 741.5,668.4 749.4,668.3 757.4,667.8 766.5,665.8 774.5,663.4 782.4,661.2 790.4,658.3 798.4,654.3 806.4,653.8 815.4,653.2 823.3,652.0 831.4,648.8 839.5,645.2 847.5,641.9 855.4,638.7 864.4,634.2 872.5,630.6 880.4,628.3 888.5,626.2 896.5,624.1 904.4,622.2 913.5,621.2 921.5,619.4 929.4,617.0 937.4,616.7 945.5,618.6 953.4,621.3 961.4,623.8 970.4,626.0 978.4,629.7 986.4,631.7 994.5,634.1 1002.4,638.3 1010.5,643.0 1019.5,648.1 1027.5,651.4 1035.4,654.3 1043.5,658.8 1051.4,661.7 1059.5,662.8 1068.5,663.9 1076.5,665.3 1084.4,666.0 1092.4,666.0 1100.5,665.1 1108.4,662.9 1117.4,662.2 1125.5,660.3 1133.4,658.0 1141.4,657.0 1149.5,657.2 1157.4,658.4 1166.4,659.4 1174.5,662.7 1182.4,663.2 1190.5,664.2 1198.5,667.5 1206.4,671.1" fill="none" stroke="#fdd835" stroke-width="1" stroke-linejoin="round" clip-path="url(#pane)" />
<polyline points="7.3,692.4 15.5,672.9 23.5,688.6 31.5,683.4 39.4,678.8 48.4,681.3 56.5,709.2 64.5,702.8 72.4,715.9 80.4,674.4 88.4,688.5 96.4,668.9 105.4,660.6 113.3,668.5 121.4,663.9 129.5,669.0 137.5,666.4 145.4,661.9 154.4,665.1 162.5,661.2 170.4,660.2 178.5,646.6 186.5,620.2 194.4,619.5 203.6,618.4 211.5,615.4 219.4,616.7 227.4,624.5 235.5,618.7 243.4,626.1 252.4,626.6 260.5,614.3 268.5,612.7 276.4,624.3 284.5,640.8 292.4,637.9 300.5,625.3 309.4,623.7 317.5,596.9 325.4,600.6 333.4,593.8 341.4,602.7 349.4,615.9 358.4,609.7 366.5,616.2 374.4,614.7 382.5,618.0 390.5,623.0 398.4,605.6 407.4,615.8 415.5,609.6 423.4,598.1 431.4,590.8 439.5,632.9 447.4,630.2 456.4,624.5 464.5,622.6 472.4,628.0 480.5,638.6 488.5,658.0 496.4,669.2 505.4,664.1 513.4,656.9 521.4,655.7 529.4,659.7 537.5,666.7 545.5,690.9 553.5,668.1 562.5,658.9 570.5,657.7 578.4,630.7 586.5,631.2 594.5,646.6 602.4,668.4 611.4,664.9 619.5,670.3 627.4,668.5 635.4,660.0 643.3,677.8 651.4,674.4 660.5,676.6 668.5,687.1 676.4,695.3 684.4,702.8 692.5,664.7 700.4,659.8 709.4,651.5 717.5,656.1 725.5,654.4 733.5,652.9 741.5,644.8 749.4,658.4 757.4,670.9 766.5,646.4 774.5,641.9 782.4,656.5 790.4,654.5 798.4,647.4 806.4,657.2 815.4,651.8 823.3,634.8 831.4,610.9 839.5,604.9 847.5,606.1 855.4,599.3 864.4,596.5 872.5,619.9 880.4,615.1 888.5,612.4 896.5,626.7 904.4,627.3 913.5,634.0 921.5,632.5 929.4,617.6 937.4,631.0 945.5,636.5 953.4,643.7 961.4,641.0 970.4,630.2 978.4,647.3 986.4,648.0 994.5,648.6 1002.4,671.5 1010.5,693.0 1019.5,698.8 1027.5,680.1 1035.4,672.7 1043.5,681.2 1051.4,671.6 1059.5,651.2 1068.5,659.5 1076.5,661.3 1084.4,639.6 1092.4,646.6 1100.5,636.2 1108.4,618.0 1117.4,660.6 1125.5,666.8 1133.4,666.2 1141.4,666.1 1149.5,676.2 1157.4,697.9 1166.4,686.0 1174.5,696.9 1182.4,666.0 1190.5,675.2 1198.5,685.9 1206.4,697.1" fill="none" stroke="#7e57c2" stroke-width="1" stroke-linejoin="round" clip-path="url(#pane)" />
<text x="18" y="593.1" font-size="13" fill="#131722" font-weight="normal" text-anchor="start" textLength="77" lengthAdjust="spacingAndGlyphs" >RSI (14, close)</text>
<text x="103" y="593.1" font-size="13" fill="#7e57c2" font-weight="normal" text-anchor="start" textLength="28" lengthAdjust="spacingAndGlyphs" >40.52</text>
<text x="139" y="593.1" font-size="13" fill="#fdd835" font-weight="normal" text-anchor="start" textLength="28" lengthAdjust="spacingAndGlyphs" >49.57</text>
<text x="1301" y="589.8" font-size="12" fill="#131722" font-weight="normal" text-anchor="start" textLength="28.8" lengthAdjust="spacingAndGlyphs" stroke="#131722" stroke-width="0.3">80.00</text>
<text x="1301" y="645.9" font-size="12" fill="#131722" font-weight="normal" text-anchor="start" textLength="28.8" lengthAdjust="spacingAndGlyphs" stroke="#131722" stroke-width="0.3">60.00</text>
<path d="M1293 663H1332Q1334 663 1334 665V678Q1334 680 1332 680H1293Z" fill="#fdd835"/>
<text x="1301" y="675.8" font-size="12" fill="#000" font-weight="normal" text-anchor="start" textLength="28.5" lengthAdjust="spacingAndGlyphs" stroke="#000" stroke-width="0.2">49.57</text>
<path d="M1293 689H1332Q1334 689 1334 691V704Q1334 706 1332 706H1293Z" fill="#7e57c2"/>
<text x="1301" y="701.8" font-size="12" fill="#fff" font-weight="normal" text-anchor="start" textLength="28.5" lengthAdjust="spacingAndGlyphs" >40.52</text>
<g clip-path="url(#fc)">
<text x="5.191799999999999" y="759" font-size="12" fill="#131722" font-weight="bold" text-anchor="start" textLength="19.0" lengthAdjust="spacingAndGlyphs" >Apr</text>
<text x="248.96359999999999" y="759" font-size="12" fill="#131722" font-weight="bold" text-anchor="start" textLength="21.5" lengthAdjust="spacingAndGlyphs" >May</text>
<text x="502.88820000000004" y="759" font-size="12" fill="#131722" font-weight="bold" text-anchor="start" textLength="19.6" lengthAdjust="spacingAndGlyphs" >Jun</text>
<text x="748.7236" y="759" font-size="12" fill="#131722" font-weight="bold" text-anchor="start" textLength="16.0" lengthAdjust="spacingAndGlyphs" >Jul</text>
<text x="998.9682" y="759" font-size="12" fill="#131722" font-weight="bold" text-anchor="start" textLength="21.5" lengthAdjust="spacingAndGlyphs" >Aug</text>
<text x="1252.5800000000002" y="759" font-size="12" fill="#131722" font-weight="bold" text-anchor="start" textLength="20.2" lengthAdjust="spacingAndGlyphs" >Sep</text>
</g>
<g fill="#111">
<path d="M12 791h11.8v14.8h-5.9v-8.9H12z"/>
<circle cx="28.9" cy="794" r="2.8"/>
<path d="M34 791h7.8l-5.9 14.8h-6.9z"/>
</g>
<text x="49" y="805.8" font-size="21.4" fill="#111" font-weight="bold" text-anchor="start" textLength="121" lengthAdjust="spacingAndGlyphs" >TradingView</text>
</svg></body></html>
